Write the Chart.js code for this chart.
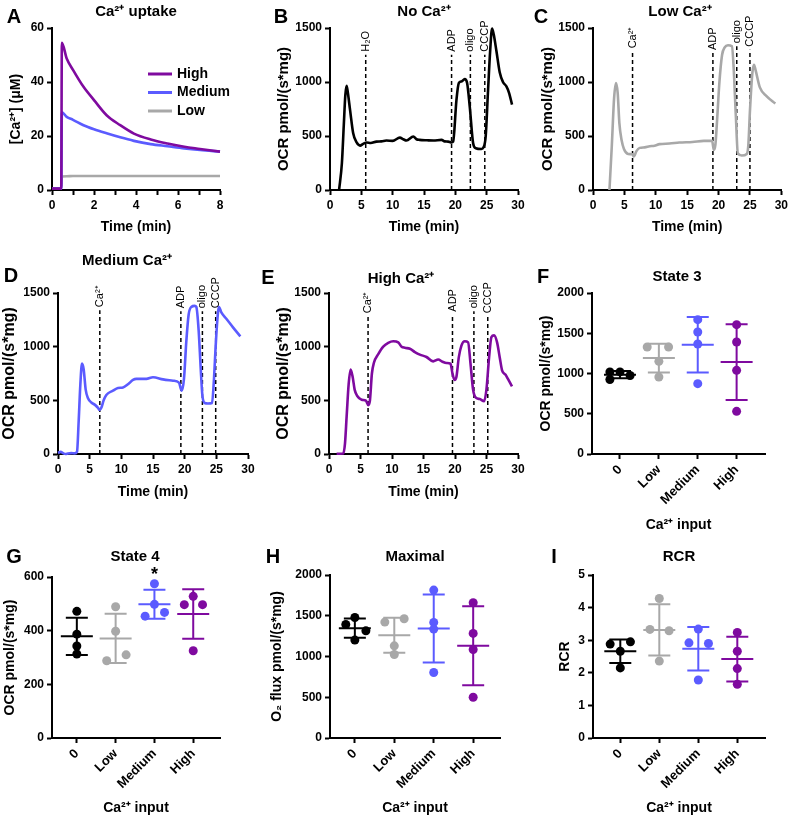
<!DOCTYPE html>
<html>
<head>
<meta charset="utf-8">
<script src="https://cdn.jsdelivr.net/npm/chart.js@4.4.0/dist/chart.umd.min.js"></script>
<style>
  html, body { margin: 0; padding: 0; background: #fff; }
  #wrap { position: relative; width: 791px; height: 818px; }
  #wrap canvas { position: absolute; left: 0; top: 0; }
</style>
</head>
<body>
<div id="wrap">
  <canvas id="cA" width="791" height="818"></canvas>
  <canvas id="cB" width="791" height="818"></canvas>
  <canvas id="cC" width="791" height="818"></canvas>
  <canvas id="cD" width="791" height="818"></canvas>
  <canvas id="cE" width="791" height="818"></canvas>
  <canvas id="cF" width="791" height="818"></canvas>
  <canvas id="cG" width="791" height="818"></canvas>
  <canvas id="cH" width="791" height="818"></canvas>
  <canvas id="cI" width="791" height="818"></canvas>
</div>
<script>
// ---- data ----

// A: Ca2+ uptake (uM) vs time (min)
const uptakeTime   = [0, 0.44, 0.47, 0.7, 1.0, 1.5, 2.0, 2.6, 3.25, 3.9, 4.7, 5.5, 6.3, 7.05, 8.0];
const uptakeHigh   = [0.5, 0.5, 54.5, 48.7, 44.5, 38.2, 33.3, 27.7, 24.0, 20.9, 18.7, 17.2, 16.0, 15.2, 14.2];
const uptakeMedium = [0.5, 0.5, 28.8, 27.1, 26.0, 24.0, 22.5, 21.0, 19.5, 18.2, 17.0, 16.2, 15.4, 14.8, 14.2];
const uptakeLow    = [0.5, 0.5, 5.0, 5.1, 5.2, 5.2, 5.2, 5.2, 5.2, 5.2, 5.2, 5.2, 5.2, 5.2, 5.2];

// B: no Ca2+
const noCaTime = [1.45, 1.9, 2.2, 2.45, 2.65, 2.85, 3.2, 3.7, 4.25, 4.8, 5.3, 5.85, 6.5, 7.4, 8.2, 9.0, 10.0, 11.15, 11.7, 12.2, 13.3, 13.8, 14.3, 15.5, 16.5, 17.8, 18.3, 18.85, 19.4, 19.65, 20.18, 20.55, 20.98, 21.5, 21.88, 22.3, 22.84, 23.26, 24.16, 24.5, 24.85, 25.2, 25.57, 25.86, 26.13, 26.55, 27.08, 27.6, 28.15, 28.57, 29.05];
const noCaOcr  = [0, 250, 600, 880, 965, 900, 742, 526, 440, 411, 427, 440, 435, 448, 450, 458, 455, 485, 470, 458, 495, 470, 464, 460, 458, 464, 450, 448, 440, 448, 835, 990, 1005, 1027, 990, 773, 433, 387, 380, 395, 500, 900, 1300, 1495, 1440, 1290, 1090, 1000, 960, 900, 790];

// C: low Ca2+
const lowCaTime = [2.62, 2.99, 3.36, 3.67, 3.93, 4.2, 4.56, 4.93, 5.6, 6.29, 6.5, 6.92, 7.45, 8.23, 9.02, 9.8, 10.6, 12.17, 13.74, 15.84, 17.67, 18.98, 19.24, 19.5, 19.77, 20.14, 20.56, 20.98, 21.5, 22.13, 22.39, 22.76, 23.07, 23.7, 24.49, 24.75, 25.01, 25.38, 25.64, 25.9, 26.58, 27.64, 29.05];
const lowCaOcr  = [0, 400, 850, 990, 900, 620, 460, 380, 334, 330, 310, 360, 390, 395, 405, 410, 425, 430, 440, 445, 455, 455, 371, 420, 650, 1000, 1250, 1320, 1340, 1330, 1150, 680, 340, 320, 334, 420, 742, 1080, 1160, 1110, 950, 870, 800];

// D: medium Ca2+
const medCaTime = [0, 0.42, 0.79, 1.2, 1.58, 2.1, 2.63, 3.0, 3.26, 3.53, 3.79, 4.05, 4.37, 4.74, 5.26, 5.79, 6.32, 6.58, 6.84, 7.21, 7.63, 8.68, 9.47, 10.26, 11.05, 11.84, 12.37, 13.95, 15.0, 16.58, 18.16, 19.1, 19.53, 19.89, 20.26, 20.63, 21.05, 21.58, 21.84, 22.21, 22.53, 22.79, 23.16, 23.68, 24.32, 24.63, 24.89, 25.16, 25.42, 25.79, 26.58, 27.63, 28.79];
const medCaOcr  = [10, 20, 8, 0, 5, 8, 6, 20, 300, 650, 842, 790, 600, 520, 480, 460, 430, 410, 430, 500, 550, 590, 615, 620, 650, 690, 700, 700, 715, 695, 683, 665, 590, 700, 1050, 1300, 1370, 1380, 1370, 1150, 800, 550, 475, 470, 475, 700, 1000, 1250, 1370, 1320, 1260, 1180, 1096];

// E: high Ca2+
const highCaTime = [1.21, 2.27, 2.54, 2.8, 3.12, 3.43, 3.75, 4.07, 4.49, 5.18, 5.86, 6.23, 6.5, 6.81, 7.13, 7.82, 8.61, 9.4, 10.2, 10.99, 11.52, 12.04, 12.84, 13.63, 14.42, 15.48, 16.53, 17.33, 18.01, 18.65, 19.28, 19.6, 19.92, 20.23, 20.6, 21.02, 21.55, 22.08, 22.45, 22.87, 23.3, 23.93, 24.62, 24.99, 25.41, 25.78, 26.2, 26.68, 27.1, 27.47, 28.0, 28.4, 29.05];
const highCaOcr  = [3, 5, 100, 350, 650, 786, 720, 600, 540, 506, 497, 455, 500, 750, 850, 930, 1000, 1035, 1050, 1040, 1000, 990, 980, 950, 926, 904, 863, 880, 860, 848, 842, 750, 690, 720, 900, 1010, 1050, 1040, 850, 600, 525, 512, 491, 600, 900, 1090, 1105, 1040, 900, 780, 740, 700, 630];

// injection times (min) and their labels
const noCaAdds     = [5.7, 19.4, 22.4, 24.7];
const noCaAddNames = ['H\u2082O', 'ADP', 'oligo', 'CCCP'];
const caAddNames   = ['Ca\u00b2\u207a', 'ADP', 'oligo', 'CCCP'];
const lowCaAdds    = [6.3, 19.1, 22.9, 25.0];
const medCaAdds    = [6.6, 19.4, 22.8, 24.9];
const highCaAdds   = [6.2, 19.6, 23.0, 25.2];

// F-I: individual replicates per Ca2+ input
const groups   = ['0', 'Low', 'Medium', 'High'];
const state3   = [[1020, 1020, 975, 925], [1329, 1329, 1151, 956], [1669, 1516, 1367, 874], [1607, 1391, 1039, 530]];
const state4   = [[472, 387, 343, 313], [489, 398, 288, 310], [575, 498, 454, 468], [497, 528, 497, 325]];
const maximal  = [[1479, 1393, 1315, 1201], [1422, 1463, 1131, 1025], [1815, 1418, 1336, 803], [1660, 1283, 1086, 500]];
const rcr      = [[2.88, 2.95, 2.66, 2.15], [4.28, 3.33, 3.29, 2.36], [3.34, 2.92, 2.90, 1.78], [3.24, 2.66, 2.13, 1.65]];

// ---- styling ----
const FONT = "'Liberation Sans', Arial, Helvetica, sans-serif";
const PAGE_W = 791, PAGE_H = 818;
const BLACK = '#000000', GRAY = '#a8a8a8', BLUE = '#5b5bff', PURPLE = '#7f0a9f';
const groupColors = [BLACK, GRAY, BLUE, PURPLE];

// horizontal spread of the dots inside a group (x units)
const spread3 = [[-0.26, 0, 0.26, -0.26], [-0.3, 0.25, 0, 0], [0, 0, 0, 0], [0, 0, 0, 0]];
const spread4 = [[0, 0, 0, 0], [0, 0, -0.23, 0.27], [0, 0, -0.24, 0.26], [-0.23, 0, 0.24, 0]];
const spreadM = [[0, -0.23, 0.28, 0], [-0.24, 0.25, 0, 0], [0, 0, 0, 0], [0, 0, 0, 0]];
const spreadR = [[-0.26, 0.26, 0, 0], [0, -0.24, 0.25, 0], [0, -0.24, 0.26, 0], [0, 0, 0, 0]];

function frameFor(box) {
  const yLine = box.yTitleSize * 1.2;
  const xLine = 14 * 1.2;
  const padLeft = box.yTitleX - yLine / 2;
  const padBottom = PAGE_H - (box.xTitleY + xLine / 2);
  return {
    padding: { left: padLeft, top: box.top, right: PAGE_W - box.x1, bottom: padBottom },
    yWidth: box.x0 - padLeft,
    xHeight: PAGE_H - padBottom - box.bottom
  };
}

function makeAxis(position, title, titleSize, extra, fit) {
  const ax = {
    type: 'linear',
    position: position,
    border: { display: true, color: BLACK, width: 2 },
    grid: { display: true, drawOnChartArea: false, drawTicks: true, tickLength: 5, tickWidth: 2, tickColor: BLACK, color: BLACK },
    title: { display: true, text: title, color: BLACK, font: { family: FONT, size: titleSize, weight: 'bold' }, padding: 0 },
    afterFit: fit
  };
  const ticks = { color: BLACK, font: { family: FONT, size: 12, weight: 'bold' }, padding: 3, callback: v => String(v) };
  Object.assign(ticks, extra.ticks || {});
  Object.assign(ax, extra);
  ax.ticks = ticks;
  return ax;
}

// panel letter + title
function headerPlugin(letter, letterAt, title, titleAt) {
  return {
    id: 'header',
    afterDraw(chart) {
      const ctx = chart.ctx;
      ctx.save();
      ctx.fillStyle = BLACK;
      ctx.textAlign = 'center';
      ctx.textBaseline = 'middle';
      ctx.font = 'bold 20px ' + FONT;
      ctx.fillText(letter, letterAt[0], letterAt[1]);
      ctx.font = 'bold 15px ' + FONT;
      ctx.fillText(title, titleAt[0], titleAt[1]);
      ctx.restore();
    }
  };
}

function buildChart(id, box, datasets, xExtra, yExtra, plugins) {
  const f = frameFor(box);
  const x = makeAxis('bottom', box.xTitle, 14, xExtra, s => { s.height = f.xHeight; });
  const y = makeAxis('left', box.yTitle, box.yTitleSize, yExtra, s => { s.width = f.yWidth; });
  return new Chart(document.getElementById(id), {
    type: 'scatter',
    data: { datasets: datasets },
    options: {
      responsive: false,
      animation: false,
      devicePixelRatio: 1,
      events: [],
      layout: { padding: f.padding },
      scales: { x: x, y: y },
      plugins: { legend: { display: false }, tooltip: { enabled: false } }
    },
    plugins: plugins
  });
}

// ---- A: uptake ----
const uptakeSets = [
  { label: 'High', values: uptakeHigh, color: PURPLE },
  { label: 'Medium', values: uptakeMedium, color: BLUE },
  { label: 'Low', values: uptakeLow, color: GRAY }
];
const legendA = {
  id: 'legendA',
  afterDraw(chart) {
    const ctx = chart.ctx;
    ctx.save();
    ctx.font = 'bold 14px ' + FONT;
    ctx.textBaseline = 'middle';
    ctx.textAlign = 'left';
    chart.data.datasets.forEach((ds, i) => {
      const yy = 74 + i * 18.5;
      ctx.strokeStyle = ds.borderColor;
      ctx.lineWidth = 3;
      ctx.beginPath();
      ctx.moveTo(148, yy);
      ctx.lineTo(172, yy);
      ctx.stroke();
      ctx.fillStyle = BLACK;
      ctx.fillText(ds.label, 177, yy);
    });
    ctx.restore();
  }
};
buildChart('cA',
  { x0: 52, x1: 220, top: 28, bottom: 190, yTitleX: 16, yTitleSize: 14, xTitleY: 227,
    xTitle: 'Time (min)', yTitle: '[Ca\u00b2\u207a] (\u03bcM)' },
  uptakeSets.map(s => ({
    label: s.label,
    data: uptakeTime.map((t, i) => ({ x: t, y: s.values[i] })),
    showLine: true, borderColor: s.color, borderWidth: 2.6, pointRadius: 0,
    cubicInterpolationMode: 'monotone', clip: 4
  })),
  { min: 0, max: 8, ticks: { stepSize: 1, callback: v => (v % 2 === 0 ? String(v) : '') } },
  { min: 0, max: 60, ticks: { stepSize: 20 } },
  [legendA, headerPlugin('A', [14, 17], 'Ca\u00b2\u207a uptake', [136, 12])]
);

// ---- B-E: respirometry traces ----
function injectionPlugin(times, names, tops) {
  return {
    id: 'injections',
    beforeDatasetsDraw(chart) {
      const { ctx, scales: { x, y } } = chart;
      ctx.save();
      ctx.strokeStyle = BLACK;
      ctx.lineWidth = 1.5;
      ctx.setLineDash([4, 3]);
      times.forEach((t, i) => {
        const px = x.getPixelForValue(t);
        ctx.beginPath();
        ctx.moveTo(px, y.getPixelForValue(0));
        ctx.lineTo(px, y.getPixelForValue(tops[i]));
        ctx.stroke();
      });
      ctx.setLineDash([]);
      ctx.fillStyle = BLACK;
      ctx.font = '11px ' + FONT;
      ctx.textAlign = 'left';
      ctx.textBaseline = 'middle';
      times.forEach((t, i) => {
        const px = x.getPixelForValue(t);
        ctx.save();
        ctx.translate(px, y.getPixelForValue(tops[i]) - 3);
        ctx.rotate(-Math.PI / 2);
        ctx.fillText(names[i], 0, 0);
        ctx.restore();
      });
      ctx.restore();
    }
  };
}

function tracePanel(id, box, time, ocr, color, adds, names, tops, header) {
  buildChart(id, box,
    [{
      data: time.map((t, i) => ({ x: t, y: ocr[i] })),
      showLine: true, borderColor: color, borderWidth: 2.6, pointRadius: 0,
      cubicInterpolationMode: 'monotone', clip: 4
    }],
    { min: 0, max: 30, ticks: { stepSize: 5 } },
    { min: 0, max: 1500, ticks: { stepSize: 500 } },
    [injectionPlugin(adds, names, tops), header]
  );
}

const ocrTitle = 'OCR pmol/(s*mg)';
tracePanel('cB',
  { x0: 330, x1: 518, top: 28, bottom: 190, yTitleX: 284, yTitleSize: 15, xTitleY: 227, xTitle: 'Time (min)', yTitle: ocrTitle },
  noCaTime, noCaOcr, BLACK, noCaAdds, noCaAddNames, [1253, 1253, 1253, 1253],
  headerPlugin('B', [281, 17], 'No Ca\u00b2\u207a', [424, 12]));
tracePanel('cC',
  { x0: 593, x1: 783, top: 28, bottom: 190, yTitleX: 548, yTitleSize: 15, xTitleY: 227, xTitle: 'Time (min)', yTitle: ocrTitle },
  lowCaTime, lowCaOcr, GRAY, lowCaAdds, caAddNames, [1284, 1268, 1330, 1299],
  headerPlugin('C', [541, 17], 'Low Ca\u00b2\u207a', [680, 12]));
tracePanel('cD',
  { x0: 58, x1: 248, top: 293, bottom: 454, yTitleX: 10, yTitleSize: 16, xTitleY: 492, xTitle: 'Time (min)', yTitle: ocrTitle },
  medCaTime, medCaOcr, BLUE, medCaAdds, caAddNames, [1340, 1330, 1330, 1330],
  headerPlugin('D', [11, 276], 'Medium Ca\u00b2\u207a', [127, 261]));
tracePanel('cE',
  { x0: 329, x1: 518, top: 293, bottom: 454, yTitleX: 284, yTitleSize: 16, xTitleY: 492, xTitle: 'Time (min)', yTitle: ocrTitle },
  highCaTime, highCaOcr, PURPLE, highCaAdds, caAddNames, [1283, 1298, 1329, 1283],
  headerPlugin('E', [268, 278], 'High Ca\u00b2\u207a', [401, 279]));

// ---- F-I: dot plots with mean +/- SD ----
const errorBars = {
  id: 'errorBars',
  beforeDatasetsDraw(chart) {
    const { ctx, scales: { x, y } } = chart;
    ctx.save();
    ctx.lineWidth = 2;
    chart.data.datasets.forEach((ds, i) => {
      const vals = ds.data.map(p => p.y);
      const m = vals.reduce((a, b) => a + b, 0) / vals.length;
      const sd = Math.sqrt(vals.reduce((a, b) => a + (b - m) * (b - m), 0) / (vals.length - 1));
      const px = x.getPixelForValue(i);
      const top = y.getPixelForValue(m + sd), bot = y.getPixelForValue(m - sd), mid = y.getPixelForValue(m);
      ctx.strokeStyle = ds.backgroundColor;
      ctx.beginPath();
      ctx.moveTo(px, top); ctx.lineTo(px, bot);
      ctx.moveTo(px - 11, top); ctx.lineTo(px + 11, top);
      ctx.moveTo(px - 11, bot); ctx.lineTo(px + 11, bot);
      ctx.moveTo(px - 16, mid); ctx.lineTo(px + 16, mid);
      ctx.stroke();
    });
    ctx.restore();
  }
};

function dotPanel(id, box, values, spread, xRange, yScale, extraPlugins) {
  buildChart(id, box,
    values.map((vals, g) => ({
      label: groups[g],
      data: vals.map((v, k) => ({ x: g + spread[g][k], y: v })),
      backgroundColor: groupColors[g], borderWidth: 0, pointRadius: 4.5, clip: 6
    })),
    {
      min: xRange[0], max: xRange[1],
      afterBuildTicks: s => { s.ticks = groups.map((g, i) => ({ value: i })); },
      ticks: { autoSkip: false, minRotation: 45, maxRotation: 45, font: { family: FONT, size: 13, weight: 'bold' },
               callback: v => groups[v] }
    },
    yScale,
    [errorBars].concat(extraPlugins)
  );
}

const inputTitle = 'Ca\u00b2\u207a input';
dotPanel('cF',
  { x0: 592, x1: 765, top: 293, bottom: 454, yTitleX: 546, yTitleSize: 14, xTitleY: 525, xTitle: inputTitle, yTitle: ocrTitle },
  state3, spread3, [-0.72, 3.73], { min: 0, max: 2000, ticks: { stepSize: 500 } },
  [headerPlugin('F', [543, 277], 'State 3', [677, 277])]);

const starG = {
  id: 'star',
  afterDraw(chart) {
    const { ctx, scales: { x, y } } = chart;
    ctx.save();
    ctx.fillStyle = BLACK;
    ctx.font = 'bold 18px ' + FONT;
    ctx.textAlign = 'center';
    ctx.textBaseline = 'middle';
    ctx.fillText('*', x.getPixelForValue(2), y.getPixelForValue(608));
    ctx.restore();
  }
};
dotPanel('cG',
  { x0: 52, x1: 220, top: 577, bottom: 738, yTitleX: 10, yTitleSize: 14, xTitleY: 808, xTitle: inputTitle, yTitle: ocrTitle },
  state4, spread4, [-0.64, 3.69], { min: 0, max: 600, ticks: { stepSize: 200 } },
  [starG, headerPlugin('G', [14, 557], 'State 4', [135, 557])]);
dotPanel('cH',
  { x0: 330, x1: 500, top: 575, bottom: 738, yTitleX: 277, yTitleSize: 14, xTitleY: 808, xTitle: inputTitle, yTitle: 'O\u2082 flux pmol/(s*mg)' },
  maximal, spreadM, [-0.63, 3.68], { min: 0, max: 2000, ticks: { stepSize: 500 } },
  [headerPlugin('H', [273, 557], 'Maximal', [415, 557])]);
dotPanel('cI',
  { x0: 593, x1: 765, top: 575, bottom: 738, yTitleX: 565, yTitleSize: 14, xTitleY: 808, xTitle: inputTitle, yTitle: 'RCR' },
  rcr, spreadR, [-0.7, 3.71], { min: 0, max: 5, ticks: { stepSize: 1 } },
  [headerPlugin('I', [554, 557], 'RCR', [679, 557])]);
</script>
</body>
</html>
